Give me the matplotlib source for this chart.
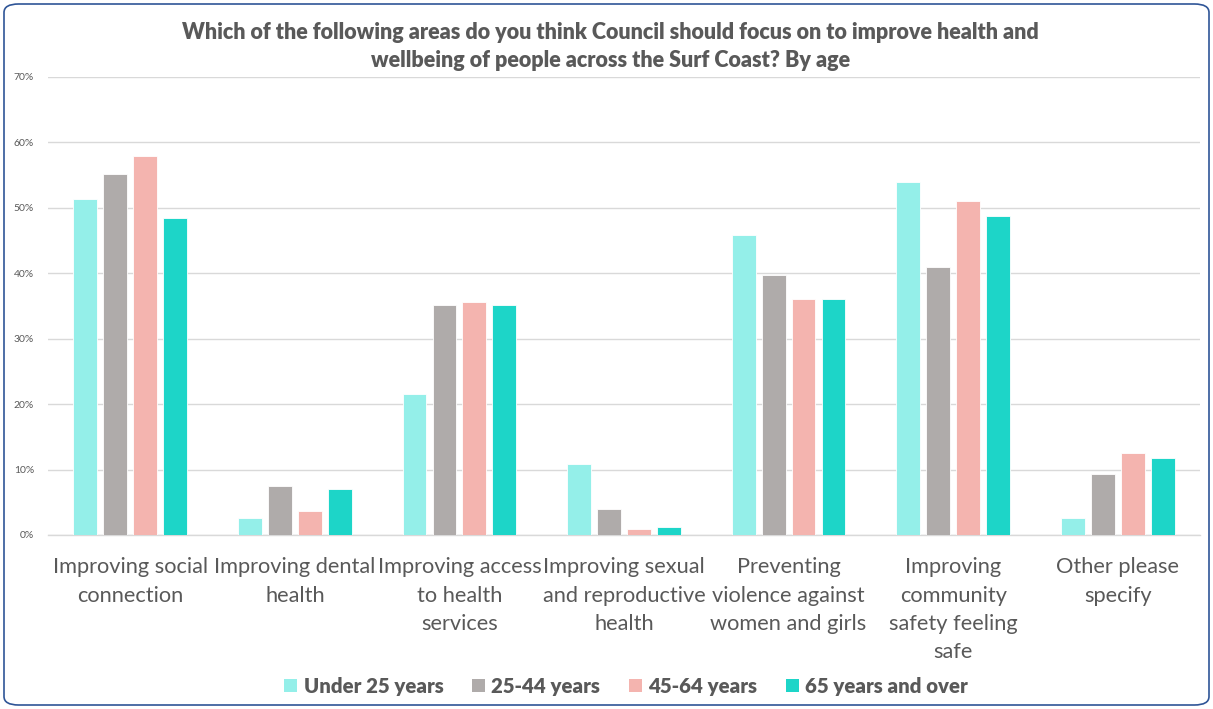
import matplotlib
matplotlib.use("Agg")
import matplotlib.pyplot as plt
import numpy as np
from matplotlib.patches import FancyBboxPatch, Patch

categories = [
    "Improving social\nconnection",
    "Improving dental\nhealth",
    "Improving access\nto health\nservices",
    "Improving sexual\nand reproductive\nhealth",
    "Preventing\nviolence against\nwomen and girls",
    "Improving\ncommunity\nsafety feeling\nsafe",
    "Other please\nspecify",
]
series_names = ["Under 25 years", "25-44 years", "45-64 years", "65 years and over"]
under25 = [51.3, 2.6, 21.5, 10.8, 45.9, 54.0, 2.6]
age25_44 = [55.1, 7.5, 35.2, 3.9, 39.7, 40.9, 9.3]
age45_64 = [57.9, 3.7, 35.6, 0.9, 36.0, 51.1, 12.5]
age65 = [48.4, 7.1, 35.2, 1.2, 36.1, 48.8, 11.8]
series = [under25, age25_44, age45_64, age65]
colors = ["#94EFE9", "#AFABAA", "#F4B4AF", "#1DD5C8"]
yticks = [0, 10, 20, 30, 40, 50, 60, 70]

plt.rcParams['font.family'] = ['Lato', 'DejaVu Sans']
fig = plt.figure(figsize=(12.13, 7.09), dpi=100)
ax = fig.add_axes([48/1213, 1-535/709, (1200-48)/1213, (535-77)/709])

x = np.arange(len(categories))
step = 0.182
width = 0.145
for i, (vals, c, name) in enumerate(zip(series, colors, series_names)):
    ax.bar(x + (i - 1.5) * step, vals, width=width, color=c, edgecolor='white',
           linewidth=0.6, label=name, zorder=3)

ax.set_xlim(-0.5, len(categories) - 0.5)
ax.set_ylim(0, 70)
ax.set_yticks(yticks)
ax.set_yticklabels([f"{v}%" for v in yticks], fontsize=7.5, color="#595959")
ax.set_xticks(x)
ax.set_xticklabels(categories, fontsize=15.7, color="#595959", linespacing=1.52, va='top')
ax.tick_params(axis='both', length=0)
ax.tick_params(axis='x', pad=16)
ax.tick_params(axis='y', pad=10)
ax.grid(axis='y', color="#D9D9D9", linewidth=1, zorder=0)
for s in ['top', 'right', 'left']:
    ax.spines[s].set_visible(False)
ax.spines['bottom'].set_color("#D9D9D9")
ax.spines['bottom'].set_linewidth(1)

fig.text(0.503, 1-46.5/709,
         "Which of the following areas do you think Council should focus on to improve health and\nwellbeing of people across the Surf Coast? By age",
         ha='center', va='center', fontsize=15.5, fontweight='heavy', color="#595959", linespacing=1.45)

handles = [Patch(facecolor=c, edgecolor='none') for c in colors]
fig.legend(handles, series_names, loc='center', bbox_to_anchor=(626/1213, 1-686/709), ncol=4,
           frameon=False, prop={'weight': 'heavy', 'size': 14.7}, labelcolor="#595959",
           handlelength=0.65, handleheight=0.65, handletextpad=0.3, columnspacing=1.4)

border = FancyBboxPatch((4/1213, 4/709), 1205/1213, 701/709,
                        boxstyle="round,pad=0,rounding_size=0.012",
                        transform=fig.transFigure, facecolor='none',
                        edgecolor="#2F5597", linewidth=1.2)
fig.patches.append(border)

fig.savefig("out.png", dpi=100)
